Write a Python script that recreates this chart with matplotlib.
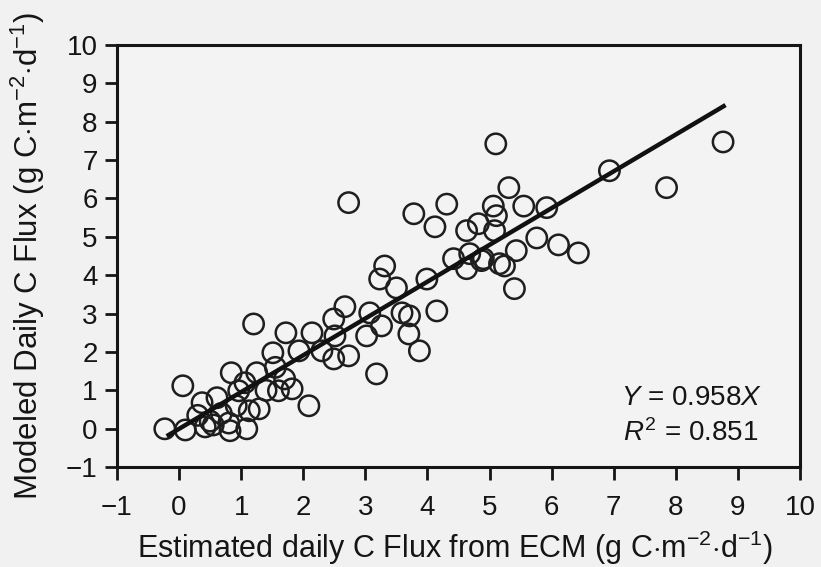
import matplotlib.pyplot as plt

plt.rcParams['font.family'] = ['Liberation Sans', 'DejaVu Sans']
plt.rcParams['mathtext.fontset'] = 'custom'
plt.rcParams['mathtext.rm'] = 'Liberation Sans'
plt.rcParams['mathtext.it'] = 'Liberation Sans:italic'

# ECM-estimated vs modeled daily carbon flux (g C m-2 d-1)
est_flux = [-0.23, 0.10, 0.06, 0.37, 0.42, 0.30, 0.55, 0.61, 0.80, 0.82, 0.84, 0.96,
            1.06, 1.09, 1.13, 1.20, 1.25, 1.29, 0.68, 0.92, 1.51, 1.60, 1.70, 1.72,
            1.82, 1.93, 2.09, 2.14, 2.30, 2.49, 2.49, 2.51, 2.67, 2.73, 2.73, 3.02,
            3.07, 3.18, 3.23, 3.26, 3.31, 3.50, 3.59, 3.70, 3.71, 3.78, 3.87, 3.99,
            4.12, 4.15, 4.31, 4.42, 4.63, 4.63, 4.68, 4.82, 4.87, 4.90, 5.06, 5.08,
            5.10, 5.11, 5.16, 5.24, 5.31, 5.40, 5.43, 5.55, 5.76, 5.92, 6.11, 6.43,
            6.93, 7.85, 8.76, 1.40, 0.50, 1.55]
mod_flux = [0.00, -0.03, 1.12, 0.68, 0.05, 0.35, 0.10, 0.81, 0.15, -0.05, 1.46, 0.99,
            1.20, 0.00, 0.47, 2.73, 1.46, 0.52, 0.40, 0.60, 1.98, 0.99, 1.30, 2.50,
            1.04, 2.03, 0.60, 2.50, 2.03, 1.82, 2.86, 2.42, 3.18, 1.90, 5.89, 2.42,
            3.02, 1.43, 3.90, 2.68, 4.24, 3.67, 3.02, 2.47, 2.94, 5.60, 2.03, 3.90,
            5.26, 3.07, 5.85, 4.43, 5.16, 4.17, 4.56, 5.34, 4.38, 4.43, 5.80, 5.16,
            7.42, 5.55, 4.30, 4.24, 6.28, 3.65, 4.64, 5.80, 4.97, 5.76, 4.79, 4.58,
            6.72, 6.28, 7.47, 1.00, 0.20, 1.60]

slope = 0.958
r2 = 0.851
fit_x = [-0.2, 8.8]

ticks = list(range(-1, 11))
tick_labels = ['\u22121'] + [str(i) for i in range(0, 11)]

fig = plt.figure(figsize=(8.21, 5.67), dpi=100, facecolor='#f1f1f1')
ax = fig.add_axes([0.1425, 0.176, 0.832, 0.745], facecolor='#f3f3f3')

ax.scatter(est_flux, mod_flux, s=215, facecolors='none', edgecolors='#1e1e1e',
           linewidths=1.8, zorder=2)
ax.plot(fit_x, [slope * x for x in fit_x], color='#111111', linewidth=3.2,
        solid_capstyle='butt', zorder=3)

ax.set_xlim(-1, 10)
ax.set_ylim(-1, 10)
ax.set_xticks(ticks)
ax.set_yticks(ticks)
ax.set_xticklabels(tick_labels)
ax.set_yticklabels(tick_labels)
ax.tick_params(direction='out', length=9, width=2, labelsize=20, color='#151515',
               labelcolor='#151515')
ax.tick_params(axis='x', pad=11)
ax.tick_params(axis='y', pad=5)
for sp in ax.spines.values():
    sp.set_linewidth(2.2)
    sp.set_color('#151515')

ax.set_xlabel(r'Estimated daily C Flux from ECM (g C$\cdot$m$^{-2}$$\cdot$d$^{-1}$)',
              fontsize=22, color='#151515')
ax.set_ylabel(r'Modeled Daily C Flux (g C$\cdot$m$^{-2}$$\cdot$d$^{-1}$)',
              fontsize=22.5, color='#151515')
ax.xaxis.set_label_coords(0.495, -0.146)
ax.yaxis.set_label_coords(-0.103, 0.5)

ax.text(0.944, 0.1635, r'$Y$ = %.3f$X$' % slope, transform=ax.transAxes,
        ha='right', va='center', fontsize=20, color='#151515')
ax.text(0.938, 0.081, r'$R^2$ = %.3f' % r2, transform=ax.transAxes,
        ha='right', va='center', fontsize=20, color='#151515')

fig.savefig('out.png', dpi=100, facecolor=fig.get_facecolor())
